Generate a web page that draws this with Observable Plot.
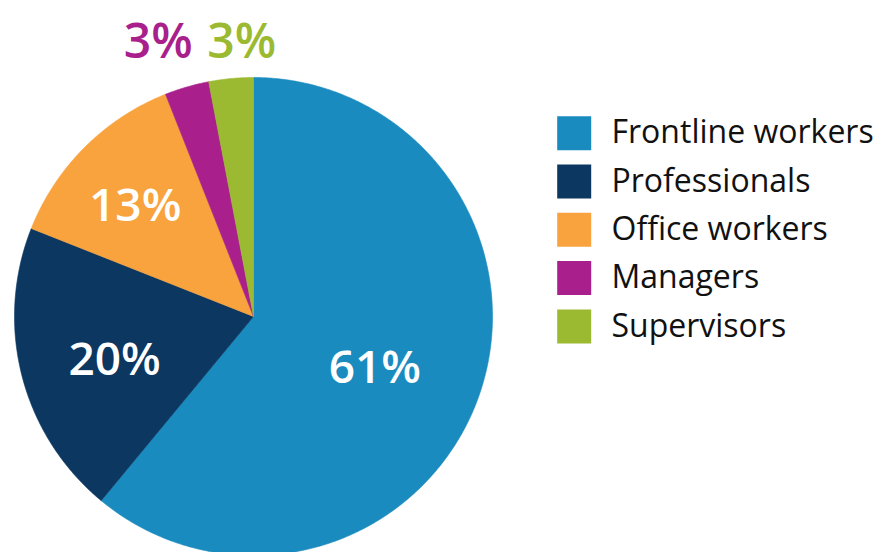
<!DOCTYPE html>
<html>
<head>
<meta charset="utf-8">
<script src="https://cdn.jsdelivr.net/npm/d3@7"></script>
<script src="https://cdn.jsdelivr.net/npm/@observablehq/plot@0.6"></script>
<style>
  html, body { margin: 0; padding: 0; background: #fff; }
  #chart svg { display: block; }
</style>
</head>
<body>
<div id="chart"></div>
<script>
const categories = ["Frontline workers", "Professionals", "Office workers", "Managers", "Supervisors"];
const values = [61, 20, 13, 3, 3];
const labels = ["61%", "20%", "13%", "3%", "3%"];
const colors = ["#1a8bbf", "#0c3761", "#f8a33d", "#a91f8b", "#9bba31"];

const W = 884, H = 552;
const cx = 253, cy = 316, R = 239;

// wedge angles (clockwise from top)
const total = d3.sum(values);
let acc = 0;
const slices = categories.map((c, i) => {
  const a0 = acc / total * 2 * Math.PI;
  acc += values[i];
  const a1 = acc / total * 2 * Math.PI;
  return {category: c, value: values[i], label: labels[i], a0, a1, mid: (a0 + a1) / 2, i};
});

// polygon points for each wedge (unit circle)
const pts = [];
for (const s of slices) {
  pts.push({category: s.category, x: 0, y: 0});
  const n = Math.max(4, Math.ceil((s.a1 - s.a0) / (Math.PI / 360)));
  for (let k = 0; k <= n; k++) {
    const a = s.a0 + (s.a1 - s.a0) * k / n;
    pts.push({category: s.category, x: Math.sin(a), y: Math.cos(a)});
  }
  pts.push({category: s.category, x: 0, y: 0});
}

// label positions from wedge mid-angle
const inside = slices.filter(s => s.value >= 5).map(s => {
  const r = s.value > 50 ? 0.54 : s.value > 15 ? 0.6 : 0.7;
  return {...s, lx: Math.sin(s.mid) * r, ly: Math.cos(s.mid) * r - 0.035};
});
// outside labels: above the pie, spread apart so they don't collide
const outsideRaw = slices.filter(s => s.value < 5).map(s => ({...s, lx: Math.sin(s.mid) * 1.2, ly: 1.145}));
const minSep = 0.35;
const meanX = d3.mean(outsideRaw, d => d.lx);
const outside = outsideRaw.map((d, k) => ({...d, lx: meanX + (k - (outsideRaw.length - 1) / 2) * minSep}));

// legend layout (unit coords)
const legendX = (573.7 - cx) / R;
const legendTX = (611 - cx) / R;
const legendStep = 48.3 / R;
const legendTop = (cy - 132.7) / R;
const legendData = categories.map((c, i) => ({category: c, y: legendTop - i * legendStep}));

const chart = Plot.plot({
  width: W,
  height: H,
  margin: 0,
  x: {domain: [-cx / R, (W - cx) / R], axis: null},
  y: {domain: [-(H - cy) / R, cy / R], axis: null},
  color: {domain: categories, range: colors},
  style: {fontFamily: "'Open Sans', sans-serif", background: "white"},
  marks: [
    Plot.line(pts, {x: "x", y: "y", z: "category", fill: "category", stroke: "category", strokeWidth: 0.6, curve: "linear"}),
    Plot.text(inside, {
      x: "lx", y: "ly", text: "label", fill: "white",
      fontSize: 46, fontWeight: 600, textAnchor: "middle", lineAnchor: "middle"
    }),
    Plot.text(outside, {
      x: "lx", y: "ly", text: "label", fill: "category",
      fontSize: 48, fontWeight: 600, textAnchor: "middle", lineAnchor: "middle"
    }),
    Plot.dot(legendData, {x: () => legendX, y: "y", symbol: "square", r: 34 / Math.sqrt(Math.PI), fill: "category"}),
    Plot.text(legendData, {
      x: () => legendTX, y: "y", text: "category", fill: "#111",
      fontSize: 32, fontWeight: 400, textAnchor: "start", lineAnchor: "middle",
      letterSpacing: "0.8px"
    })
  ]
});
document.getElementById("chart").appendChild(chart);
</script>
</body>
</html>
